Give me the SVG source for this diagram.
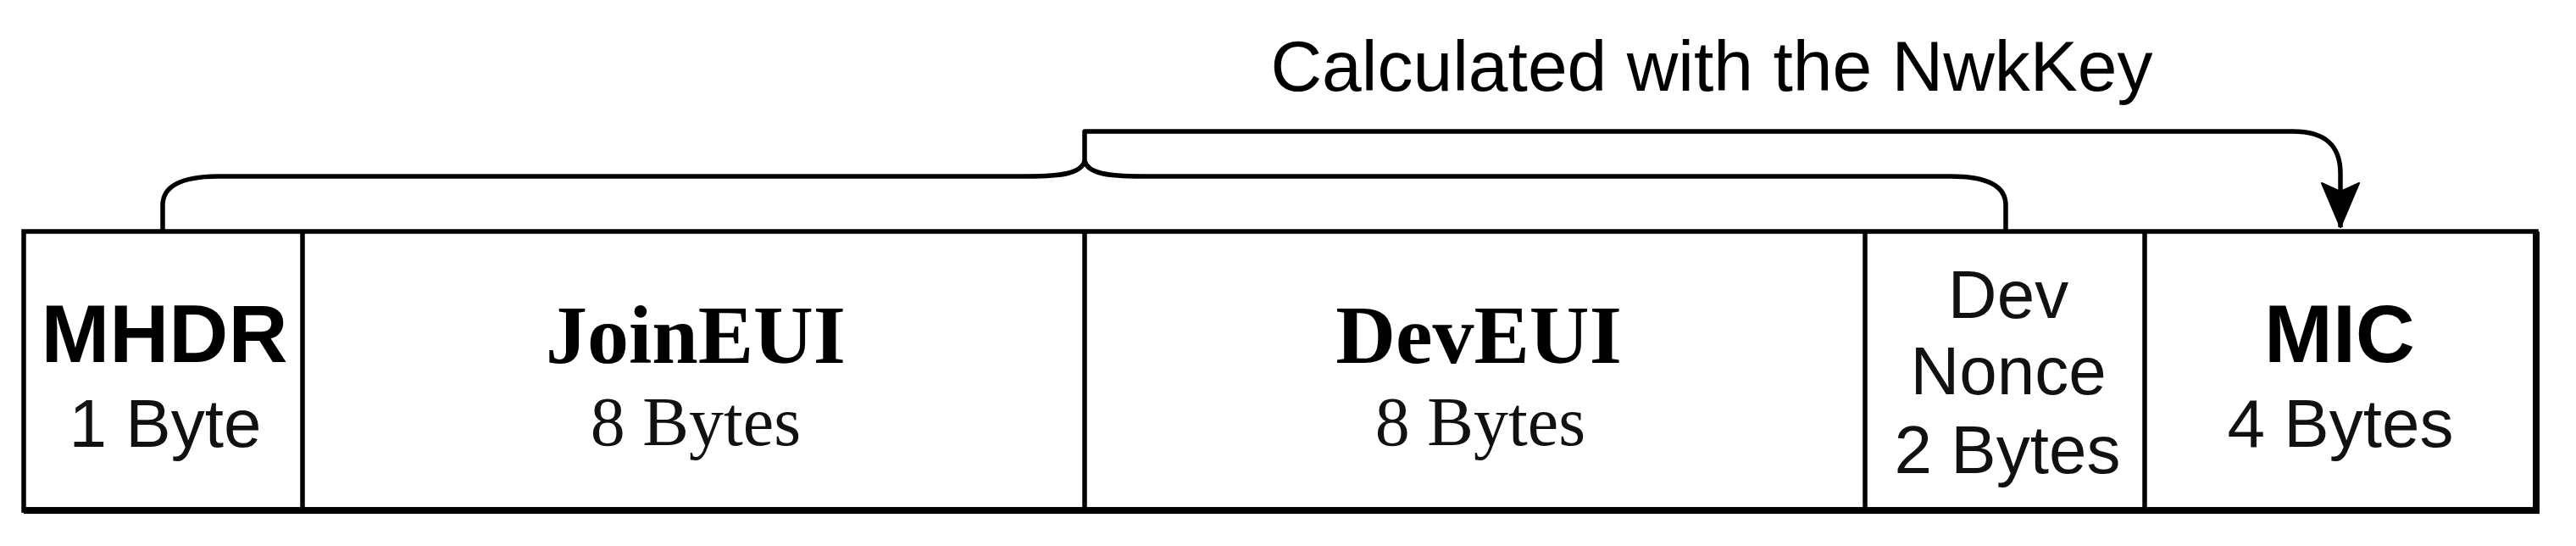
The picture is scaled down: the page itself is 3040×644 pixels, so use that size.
<svg xmlns="http://www.w3.org/2000/svg" width="3040" height="644" viewBox="0 0 3040 644">
  <style>
    .cell { fill: none; stroke: #000; stroke-width: 5.5; }
    .line { fill: none; stroke: #000; stroke-width: 5.5; stroke-linejoin: round; }
    .sans { font-family: "Liberation Sans", Arial, sans-serif; fill: #000; text-anchor: middle; }
    .serif { font-family: "Liberation Serif", "Times New Roman", serif; fill: #000; text-anchor: middle; }
    .title { font-size: 97px; font-weight: bold; }
    .stitle { font-size: 98px; font-weight: bold; }
    .sub { font-size: 80px; fill: #111; }
    .ssub { font-size: 82px; fill: #111; }
  </style>
  <defs>
    <marker id="arrow" markerUnits="userSpaceOnUse" markerWidth="60" markerHeight="50" viewBox="0 0 60 50" refX="54" refY="25" orient="auto">
      <path d="M54,25 L2,3 L12,25 L2,47 Z" fill="#000" stroke="#000" stroke-width="2" stroke-linejoin="round"/>
    </marker>
  </defs>
  <rect width="3040" height="644" fill="#fff"/>

  <g id="frame">
    <rect class="cell" x="28" y="273" width="2965" height="329"/>
    <path d="M28,602 L2993,602 L2993,273" fill="none" stroke="#000" stroke-width="8"/>
  </g>

  <g id="mhdr">
    <line class="cell" x1="357" y1="273" x2="357" y2="602"/>
    <text class="sans title" x="194" y="427">MHDR</text>
    <text class="sans sub" x="195" y="527">1 Byte</text>
  </g>

  <g id="joineui">
    <line class="cell" x1="1280" y1="273" x2="1280" y2="602"/>
    <text class="serif stitle" x="821" y="428">JoinEUI</text>
    <text class="serif ssub" x="821" y="525">8 Bytes</text>
  </g>

  <g id="deveui">
    <line class="cell" x1="2201" y1="273" x2="2201" y2="602"/>
    <text class="serif stitle" x="1745" y="428">DevEUI</text>
    <text class="serif ssub" x="1747" y="525">8 Bytes</text>
  </g>

  <g id="devnonce">
    <line class="cell" x1="2531" y1="273" x2="2531" y2="602"/>
    <text class="sans sub" x="2370" y="375">Dev</text>
    <text class="sans sub" x="2370" y="465">Nonce</text>
    <text class="sans sub" x="2369" y="558">2 Bytes</text>
  </g>

  <g id="mic">
    <text class="sans title" x="2761" y="427">MIC</text>
    <text class="sans sub" x="2762" y="527">4 Bytes</text>
  </g>

  <g id="label">
    <text class="sans" x="2020" y="107" style="font-size:84px">Calculated with the NwkKey</text>
  </g>

  <g id="connectors">
    <path class="line" d="M192,273 L192,242 C192,220 214,208 258,208 L1212,208 C1255,208 1276,204 1280,190 C1284,204 1305,208 1348,208 L2302,208 C2346,208 2367,220 2367,242 L2367,273"/>
    <path class="line" d="M1280,190 L1280,155 L2706,155 C2745,155 2762,172 2762,205 L2762,268" marker-end="url(#arrow)"/>
  </g>
</svg>
